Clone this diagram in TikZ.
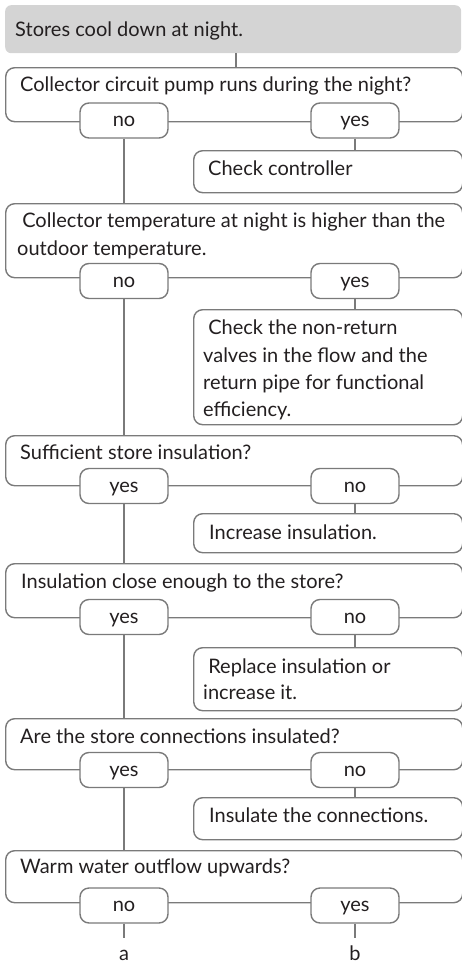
\documentclass[tikz,border=0pt]{standalone}
\usepackage{fontspec}
\setmainfont{Lato}
\definecolor{linegray}{HTML}{7A7A7A}
\definecolor{headgray}{HTML}{D4D4D4}
\definecolor{textc}{HTML}{231F20}
\tikzset{
  boxshape/.style={draw=linegray, line width=1.4pt, rounded corners=9pt, fill=white, anchor=north west, inner sep=0pt},
  headshape/.style={fill=headgray, rounded corners=6pt, anchor=north west, inner sep=0pt},
  pill/.style={draw=linegray, line width=1.4pt, rounded corners=9pt, fill=white, minimum width=88pt, minimum height=35pt, inner sep=0pt, text=textc, font=\fontsize{20}{24}\selectfont, text height=12pt, text depth=0pt},
  txt/.style={anchor=base west, inner sep=0pt, text=textc, font=\fontsize{20}{24}\selectfont},
  conn/.style={draw=linegray, line width=1.4pt},
}
\begin{document}
\begin{tikzpicture}[x=1pt,y=-1pt]
\useasboundingbox (0,0) rectangle (462,964);
% header
\node[headshape, minimum width=456pt, minimum height=48pt] (h) at (5,5) {};
\node[txt] (ht) at (15,36) {Stores cool down at night.};
% Q1
\node[boxshape, minimum width=457pt, minimum height=54pt] (q1) at (5,67) {};
\node[txt] (q1t) at (20,91) {Collector circuit pump runs during the night?};
\node[pill] (q1n) at (124,120.5) {no};
\node[pill] (q1y) at (355,120.5) {yes};
\node[boxshape, minimum width=269pt, minimum height=42pt] (a1) at (193,150) {};
\node[txt] (a1t) at (208,175) {Check controller};
% Q2
\node[boxshape, minimum width=457pt, minimum height=74pt] (q2) at (5,203) {};
\node[txt] (q2t1) at (17,227) {\ Collector temperature at night is higher than the};
\node[txt] (q2t2) at (17,255) {outdoor temperature.};
\node[pill] (q2n) at (124,281) {no};
\node[pill] (q2y) at (355,281) {yes};
\node[boxshape, minimum width=269pt, minimum height=115pt] (a2) at (193,309) {};
\node[txt] (a2t1) at (203,334) {\ Check the non-return};
\node[txt] (a2t2) at (203,362) {valves in the flow and the};
\node[txt] (a2t3) at (203,389) {return pipe for functional};
\node[txt] (a2t4) at (203,416) {efficiency.};
% Q3
\node[boxshape, minimum width=457pt, minimum height=50pt] (q3) at (5,435) {};
\node[txt] (q3t) at (20,459) {Sufficient store insulation?};
\node[pill] (q3y) at (124,486) {yes};
\node[pill] (q3n) at (355,486) {no};
\node[boxshape, minimum width=269pt, minimum height=39pt] (a3) at (193,513) {};
\node[txt] (a3t) at (209,539) {Increase insulation.};
% Q4
\node[boxshape, minimum width=457pt, minimum height=54pt] (q4) at (5,563) {};
\node[txt] (q4t) at (21,588) {Insulation close enough to the store?};
\node[pill] (q4y) at (124,617) {yes};
\node[pill] (q4n) at (355,617) {no};
\node[boxshape, minimum width=269pt, minimum height=63pt] (a4) at (193,647) {};
\node[txt] (a4t1) at (203,673) {\ Replace insulation or};
\node[txt] (a4t2) at (203,699) {increase it.};
% Q5
\node[boxshape, minimum width=457pt, minimum height=51pt] (q5) at (5,718) {};
\node[txt] (q5t) at (20,743) {Are the store connections insulated?};
\node[pill] (q5y) at (124,770) {yes};
\node[pill] (q5n) at (355,770) {no};
\node[boxshape, minimum width=269pt, minimum height=42pt] (a5) at (193,797) {};
\node[txt] (a5t) at (209,822) {Insulate the connections.};
% Q6
\node[boxshape, minimum width=457pt, minimum height=52pt] (q6) at (5,850) {};
\node[txt] (q6t) at (20,873) {Warm water outflow upwards?};
\node[pill] (q6n) at (124,905.5) {no};
\node[pill] (q6y) at (355,905.5) {yes};
\coordinate (ea) at (124,938);
\coordinate (eb) at (355,938);
\node[anchor=base, inner sep=0pt, text=textc, font=\fontsize{20}{24}\selectfont] (la) at (124,960) {a};
\node[anchor=base, inner sep=0pt, text=textc, font=\fontsize{20}{24}\selectfont] (lb) at (355,960) {b};
% connectors
\draw[conn] (h.south -| 236,0) -- (q1.north -| 236,0);
\draw[conn] (q1n.south) -- (q2.north -| q1n.south);
\draw[conn] (q1y.south) -- (a1.north -| q1y.south);
\draw[conn] (q2n.south) -- (q3.north -| q2n.south);
\draw[conn] (q2y.south) -- (a2.north -| q2y.south);
\draw[conn] (q3y.south) -- (q4.north -| q3y.south);
\draw[conn] (q3n.south) -- (a3.north -| q3n.south);
\draw[conn] (q4y.south) -- (q5.north -| q4y.south);
\draw[conn] (q4n.south) -- (a4.north -| q4n.south);
\draw[conn] (q5y.south) -- (q6.north -| q5y.south);
\draw[conn] (q5n.south) -- (a5.north -| q5n.south);
\draw[conn] (q6n.south) -- (ea);
\draw[conn] (q6y.south) -- (eb);
\end{tikzpicture}
\end{document}
